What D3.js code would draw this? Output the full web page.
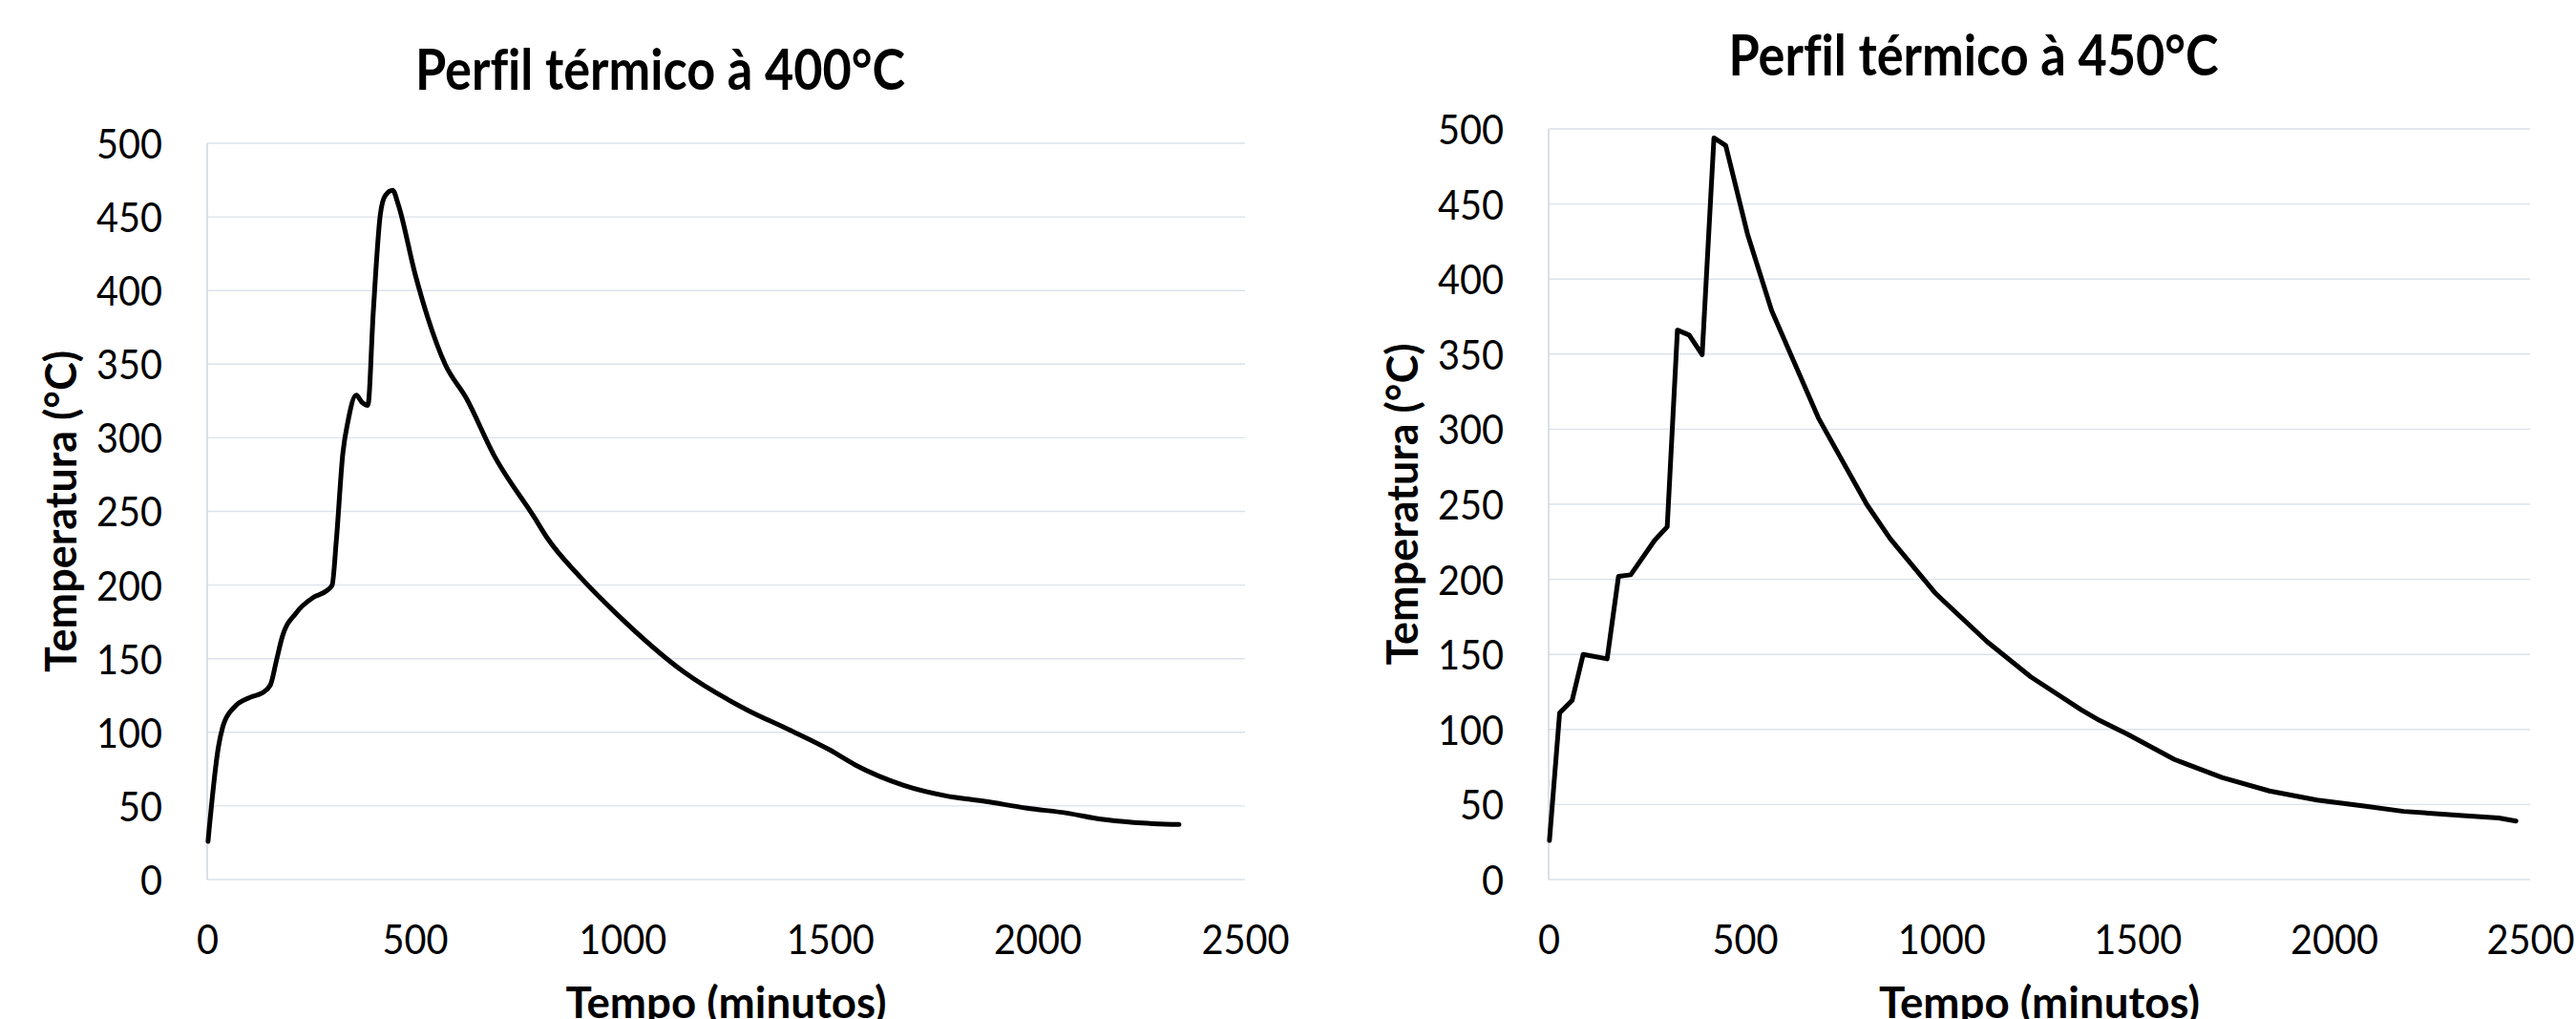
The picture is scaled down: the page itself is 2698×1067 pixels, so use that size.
<!DOCTYPE html>
<html lang="pt">
<head>
<meta charset="UTF-8">
<script src="https://d3js.org/d3.v7.min.js"></script>
<title>Perfil térmico</title>
<style>
  body { margin: 0; background: #fff; }
  svg { display: block; font-family: Lato, "Open Sans", sans-serif; font-variant-ligatures: none; }
</style>
</head>
<body>
<svg id="chart" width="2698" height="1067"></svg>
<script>
// leituras feitas no gráfico original (minutos, °C)
const tempo400 = [2, 27, 39, 65, 106, 131, 152, 167, 181, 214, 255, 287, 301, 311, 327, 339, 359, 373, 387,
  400, 417, 429, 447, 460, 501, 532, 573, 624, 691, 788, 819, 900, 984, 1148, 1302, 1400, 1500, 1560, 1678,
  1777, 1876, 1975, 2074, 2153, 2232, 2341];
const temp400 = [26, 90, 105, 117, 124, 126.5, 132, 149, 165, 181, 191.5, 196, 200, 230, 290, 311, 329, 324, 322,
  385, 451.5, 464.5, 468, 458.6, 411, 381, 350, 327, 288, 246, 232, 205, 181, 141, 115, 102, 88, 78, 64,
  57, 53, 48.5, 45, 41, 38.8, 37.4];

const tempo450 = [2, 28, 60, 88, 149, 178, 209, 270, 302, 328, 358, 391, 421, 451, 507, 568, 687, 810, 870,
  986, 1117, 1228, 1357, 1403, 1473, 1594, 1715, 1836, 1957, 2077, 2178, 2319, 2420, 2464];
const temp450 = [26, 111, 119.5, 150, 147, 202, 203, 226, 235, 366, 362.7, 349.6, 494, 489, 429.5, 379, 307.5, 250, 227,
  190.5, 158.4, 135, 113, 106, 97, 80, 68, 59, 53, 49, 45.4, 42.8, 41, 39];

const xTicks = [0, 500, 1000, 1500, 2000, 2500];
const yTicks = [0, 50, 100, 150, 200, 250, 300, 350, 400, 450, 500];
const titulos = ["Perfil térmico à 400°C", "Perfil térmico à 450°C"];
const xLabel = "Tempo (minutos)";
const yLabel = "Temperatura (°C)";

const svg = d3.select("#chart");

function drawPanel(opt) {
  const x = d3.scaleLinear().domain([0, 2500]).range([opt.left, opt.right]);
  const y = d3.scaleLinear().domain([0, 500]).range([opt.bottom, opt.top]);
  const g = svg.append("g");

  // grelha
  g.selectAll("line.grid")
    .data(yTicks)
    .enter()
    .append("line")
    .attr("class", "grid")
    .attr("x1", opt.left).attr("x2", opt.right)
    .attr("y1", d => y(d)).attr("y2", d => y(d))
    .attr("stroke", "#dde2ea")
    .attr("stroke-width", 1.4);

  g.append("line")
    .attr("x1", opt.left).attr("x2", opt.left)
    .attr("y1", opt.top).attr("y2", opt.bottom)
    .attr("stroke", "#cbd3df")
    .attr("stroke-width", 1.4);

  // eixos
  const yAxis = g.append("g")
    .attr("transform", `translate(${opt.left},0)`)
    .call(d3.axisLeft(y).tickValues(yTicks).tickFormat(d3.format("d")).tickSize(0).tickPadding(47));
  const xAxis = g.append("g")
    .attr("transform", `translate(0,${opt.bottom})`)
    .call(d3.axisBottom(x).tickValues(xTicks).tickFormat(d3.format("d")).tickSize(0).tickPadding(47));

  [yAxis, xAxis].forEach(ax => {
    ax.select(".domain").remove();
    ax.selectAll(".tick text")
      .attr("font-family", "Lato, 'Open Sans', sans-serif")
      .attr("font-size", 43)
      .attr("fill", "#000")
      .attr("textLength", d => 23 * String(d).length)
      .attr("lengthAdjust", "spacingAndGlyphs");
  });
  yAxis.selectAll(".tick text").attr("dy", "0.36em");

  // curva
  const line = d3.line()
    .x((d, i) => x(opt.tempo[i]))
    .y(d => y(d))
    .curve(opt.curve);

  g.append("path")
    .datum(opt.temp)
    .attr("d", line)
    .attr("fill", "none")
    .attr("stroke", "#000")
    .attr("stroke-width", 5)
    .attr("stroke-linejoin", "round")
    .attr("stroke-linecap", "round");

  // textos
  const cx = (opt.left + opt.right) / 2;
  g.append("text")
    .attr("x", cx - 69)
    .attr("y", opt.top - 56)
    .attr("text-anchor", "middle")
    .attr("font-size", 60)
    .attr("font-weight", 700)
    .attr("textLength", 513)
    .attr("lengthAdjust", "spacingAndGlyphs")
    .text(opt.titulo);

  g.append("text")
    .attr("x", cx)
    .attr("y", 1066)
    .attr("text-anchor", "middle")
    .attr("font-size", 46)
    .attr("font-weight", 700)
    .attr("textLength", 336)
    .attr("lengthAdjust", "spacingAndGlyphs")
    .text(xLabel);

  const cy = (opt.top + opt.bottom) / 2;
  g.append("text")
    .attr("transform", `translate(${opt.left - 137},${cy}) rotate(-90)`)
    .attr("text-anchor", "middle")
    .attr("font-size", 46)
    .attr("font-weight", 700)
    .attr("textLength", 337)
    .attr("lengthAdjust", "spacingAndGlyphs")
    .text(yLabel);
}

drawPanel({ left: 217, right: 1304, top: 150, bottom: 921,
  tempo: tempo400, temp: temp400, titulo: titulos[0], curve: d3.curveMonotoneX });
drawPanel({ left: 1622, right: 2650, top: 135, bottom: 921,
  tempo: tempo450, temp: temp450, titulo: titulos[1], curve: d3.curveLinear });
</script>
</body>
</html>
